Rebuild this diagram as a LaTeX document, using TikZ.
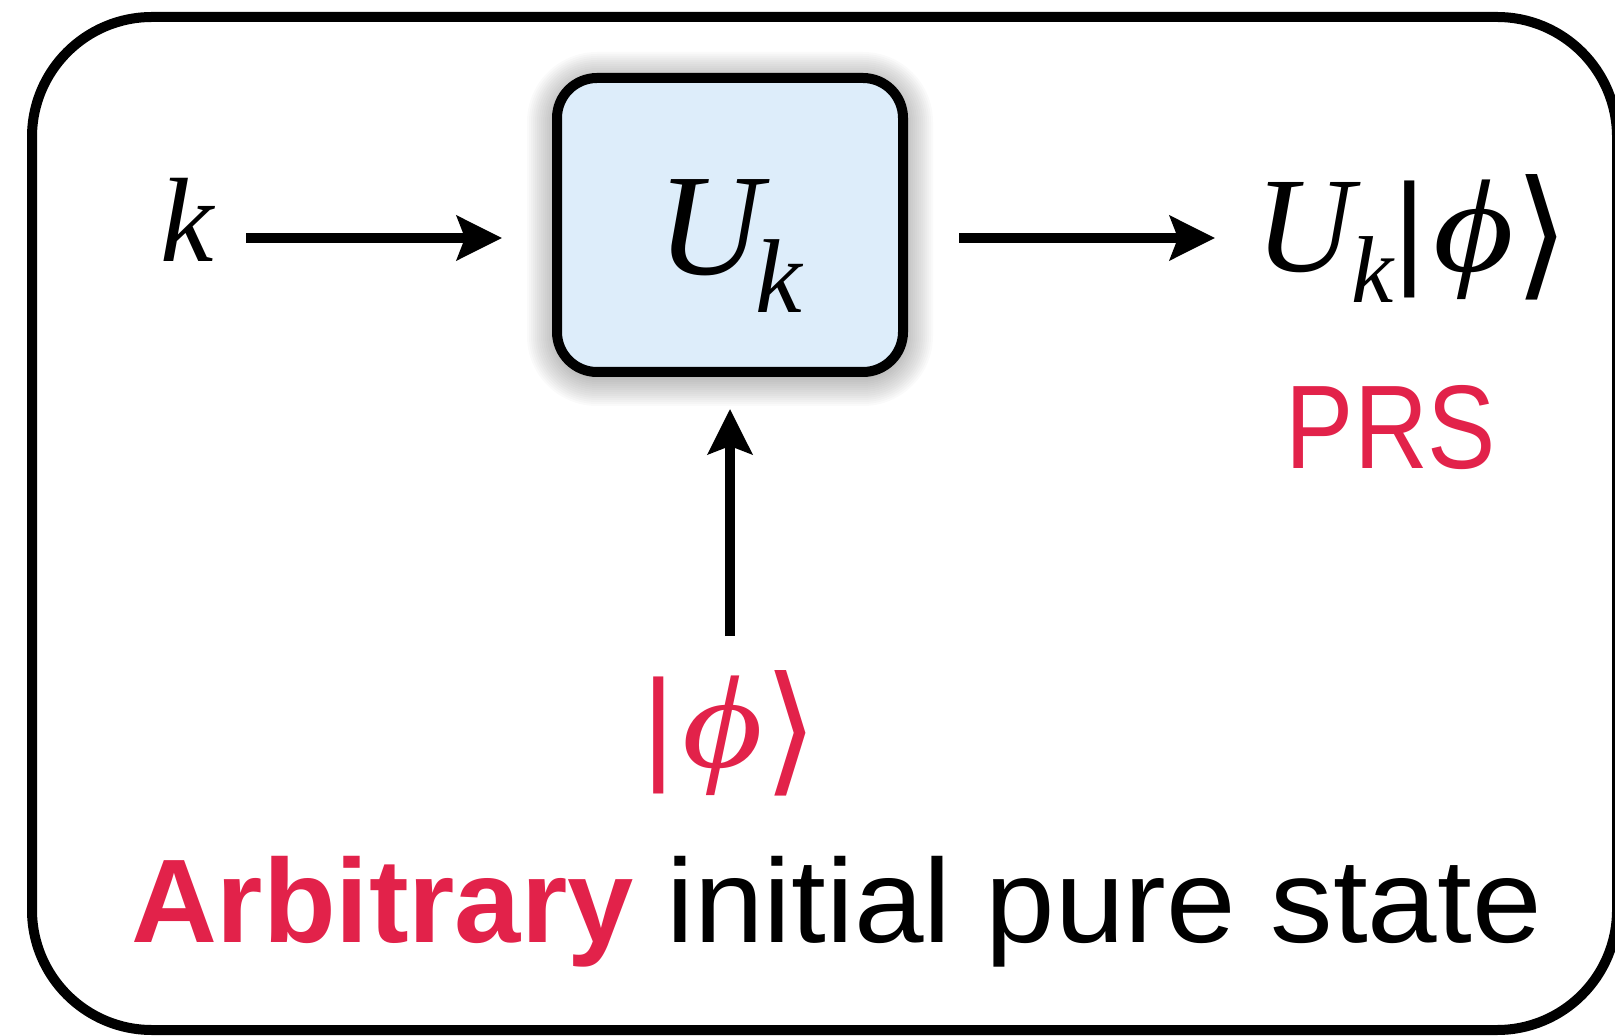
\documentclass[tikz,border=0pt]{standalone}
\usepackage{fontspec}
\setmainfont{Liberation Sans}
\newfontfamily\tms{Liberation Serif}
\newfontfamily\djv{DejaVu Sans}
\usetikzlibrary{arrows.meta,calc}
\definecolor{prsred}{RGB}{226,34,74}
\definecolor{gatefill}{RGB}{221,237,250}
\newcommand\fs[1]{\fontsize{#1}{#1}\selectfont}
\newcommand\ital[2]{{\fs{#1}\tms\itshape #2}}
% |phi> as a ket, sized for this figure
\newcommand\ketphi{{\fs{62.5pt}|}\kern4pt\scalebox{1.18}[1]{\fs{66pt}\tms\itshape ϕ}%
  \kern0pt\raisebox{-5pt}{\fs{70.5pt}\djv ⟩}}
\tikzset{
  frame/.style={draw=black, line width=5pt, rounded corners=60pt},
  gatebox/.style={draw=black, fill=gatefill, line width=5pt, rounded corners=20pt,
    minimum width=173pt, minimum height=147pt, inner sep=0pt,
    text height=50pt, text depth=0pt},
  arr/.style={line width=5pt, -{Stealth[length=22.5pt, width=22pt, inset=4pt]}},
  plain/.style={inner sep=0pt, outer sep=0pt}
}
\begin{document}
\begin{tikzpicture}[x=0.5pt, y=-0.5pt]
\useasboundingbox (0,0) rectangle (1615,1036);
% outer frame
\draw[frame] (32,17) rectangle (1617,1030);
% soft shadow around the gate
\foreach \s in {2,4,...,30}
  \fill[black, opacity=0.018, rounded corners={20pt+\s*0.5pt}]
    (557-\s, 82-\s) rectangle (903+\s, 376+\s);
% gate
\node[gatebox] (gate) at (730,225)
  {\ital{72.5pt}{U}\kern-3.5pt\raisebox{-19pt}{\ital{52.5pt}{k}}};
% input key
\node[plain, anchor=base west] (k) at (160,262) {\ital{60pt}{k}};
% output state
\node[plain, anchor=base west] (out) at (1255,272)
  {\ital{68pt}{U}\kern-1pt\raisebox{-15.5pt}{\ital{47.5pt}{k}}\ketphi};
% PRS label
\node[plain, anchor=base, text=prsred] (prs) at (1391,469)
  {\scalebox{0.86}[1]{\fs{59.5pt}PRS}};
% initial state
\node[plain, anchor=base west, text=prsred] (init) at (642,767) {\ketphi};
% caption
\node[plain, anchor=base west] (cap) at (131,942)
  {\fs{59.5pt}\textcolor{prsred}{\bfseries Arbitrary} \scalebox{1.05}[1]{initial pure state}};
% connectors
\path (0,238) coordinate (row);
\draw[arr] ([xshift=16.5pt]k.east |- row) -- ([xshift=-25pt]gate.west |- row);
\draw[arr] ([xshift=25.5pt]gate.east |- row) -- ([xshift=-20pt]out.west |- row);
\draw[arr] ([yshift=17pt]init.north -| gate.center) -- ([yshift=-16pt]gate.south);
\end{tikzpicture}
\end{document}
